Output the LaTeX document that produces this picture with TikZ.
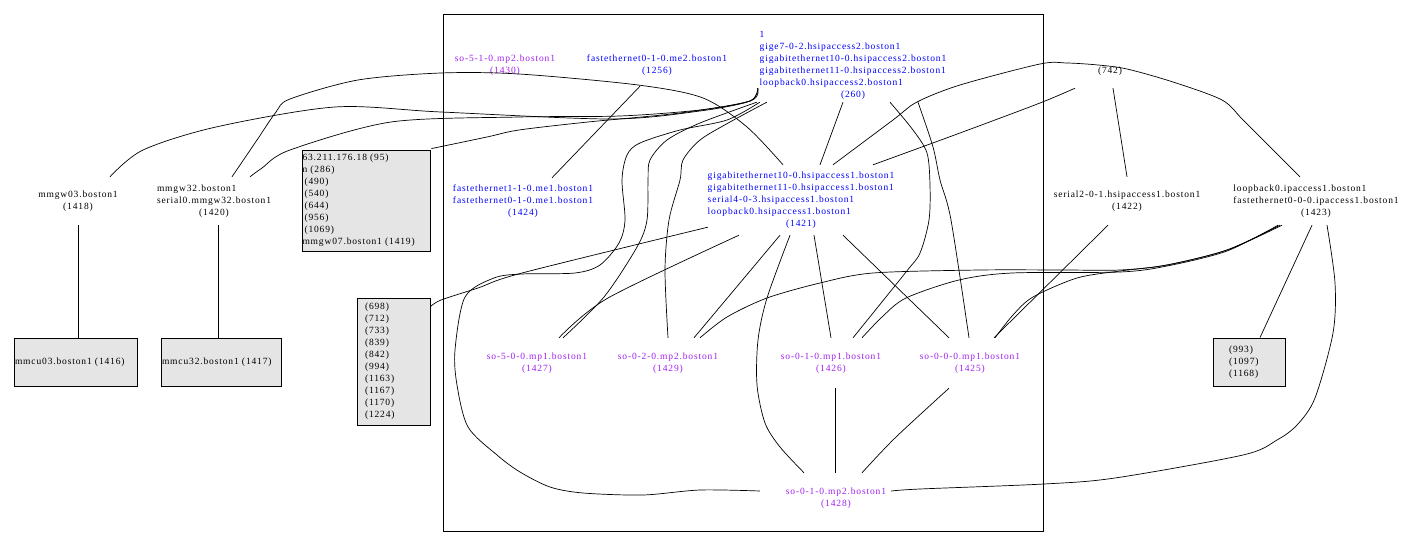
\documentclass[tikz,border=0pt]{standalone}
\usepackage{fontspec}
\newfontfamily\gfont[LetterSpace=9]{Liberation Serif}
\definecolor{gvblue}{RGB}{0,0,255}
\definecolor{gvpurple}{RGB}{160,32,240}
\definecolor{boxgray}{RGB}{229,229,229}
\newcommand{\gvlines}[2]{\begin{tabular}{@{}l@{}}#1\\\multicolumn{1}{@{}c@{}}{#2}\end{tabular}}
\tikzset{
  gtext/.style={font=\gfont\fontsize{9.5pt}{12pt}\selectfont},
  lab/.style={gtext, inner sep=0pt, align=center},
  bluelab/.style={lab, text=gvblue},
  purplab/.style={lab, text=gvpurple, minimum width=130pt, minimum height=50pt},
  graybox/.style={gtext, draw, fill=boxgray, line width=0.8pt, align=left, inner ysep=0pt},
  edge/.style={line width=0.7pt},
  smoothedge/.style={edge, smooth, tension=0.5},
  frame/.style={draw, line width=0.8pt, inner sep=0pt}
}
\begin{document}
\begin{tikzpicture}[x=1pt,y=-1pt]
\useasboundingbox (0,0) rectangle (1424,545);
% cluster frame
\node[frame, minimum width=600pt, minimum height=517pt] (cluster) at (743,272.5) {};
% outside left
\node[lab, minimum width=96pt, minimum height=48pt] (n1418) at (78,201) {mmgw03.boston1\\(1418)};
\node[lab, minimum width=120pt, minimum height=48pt] (n1420) at (214,201) {\gvlines{mmgw32.boston1\\serial0.mmgw32.boston1}{(1420)}};
\node[graybox, inner xsep=0.5pt, text width=127pt, minimum height=101pt] (n1419) at (366,200.5)
  {63.211.176.18 (95)\\n (286)\\\hspace{2pt}(490)\\\hspace{2pt}(540)\\\hspace{2pt}(644)\\\hspace{2pt}(956)\\\hspace{2pt}(1069)\\mmgw07.boston1 (1419)};
\node[graybox, inner xsep=1pt, text width=121pt, minimum height=48pt] (n1416) at (75.5,362) {mmcu03.boston1 (1416)};
\node[graybox, inner xsep=1pt, text width=118pt, minimum height=48pt] (n1417) at (221,362) {mmcu32.boston1 (1417)};
\node[graybox, inner xsep=8pt, text width=57pt, minimum height=127pt] (n698) at (393.5,361.5)
  {(698)\\(712)\\(733)\\(839)\\(842)\\(994)\\(1163)\\(1167)\\(1170)\\(1224)};
% cluster contents
\node[lab, text=gvpurple] (n1430) at (505,65) {so-5-1-0.mp2.boston1\\(1430)};
\node[bluelab, minimum width=150pt, minimum height=42pt] (n1256) at (657,65) {fastethernet0-1-0.me2.boston1\\(1256)};
\node[bluelab, minimum width=212pt, minimum height=74pt] (n260) at (853,65)
  {\gvlines{1\\gige7-0-2.hsipaccess2.boston1\\gigabitethernet10-0.hsipaccess2.boston1\\gigabitethernet11-0.hsipaccess2.boston1\\loopback0.hsipaccess2.boston1}{(260)}};
\node[bluelab, minimum width=150pt, minimum height=46pt] (n1424) at (523,201)
  {fastethernet1-1-0.me1.boston1\\fastethernet0-1-0.me1.boston1\\(1424)};
\node[bluelab, minimum width=200pt, minimum height=70pt] (n1421) at (801,200)
  {\gvlines{gigabitethernet10-0.hsipaccess1.boston1\\gigabitethernet11-0.hsipaccess1.boston1\\serial4-0-3.hsipaccess1.boston1\\loopback0.hsipaccess1.boston1}{(1421)}};
\node[purplab] (n1427) at (537,363) {so-5-0-0.mp1.boston1\\(1427)};
\node[purplab] (n1429) at (668,363) {so-0-2-0.mp2.boston1\\(1429)};
\node[purplab] (n1426) at (831,363) {so-0-1-0.mp1.boston1\\(1426)};
\node[purplab] (n1425) at (970,363) {so-0-0-0.mp1.boston1\\(1425)};
\node[purplab] (n1428) at (836,498) {so-0-1-0.mp2.boston1\\(1428)};
% outside right
\node[lab, minimum width=80pt, minimum height=34pt] (n742) at (1110,71) {(742)};
\node[lab, minimum width=160pt, minimum height=48pt] (n1422) at (1127,201) {serial2-0-1.hsipaccess1.boston1\\(1422)};
\node[lab, minimum width=170pt, minimum height=48pt] (n1423) at (1316,201)
  {\gvlines{loopback0.ipaccess1.boston1\\fastethernet0-0-0.ipaccess1.boston1}{(1423)}};
\node[graybox, inner xsep=16pt, text width=40pt, minimum height=48pt] (n993) at (1249,362) {(993)\\(1097)\\(1168)};

% edges
\draw[edge] (n1418.south) -- (n1418.south |- n1416.north);
\draw[edge] ([xshift=4pt]n1420.south) -- ([xshift=4pt]n1420.south |- n1417.north);
% to 260 from the left
\draw[smoothedge] plot coordinates {([xshift=32pt]n1418.north) (143,150) (216,127) (335,107) (441,112) (611,119) (700,111) (750,101) ([xshift=11pt,yshift=14pt]n260.south west)};
\draw[smoothedge] plot coordinates {([xshift=36pt]n1420.north) (262,168) (290,150) (391,122) (519,117) (620,116) (700,110) (750,101) ([xshift=11pt,yshift=14pt]n260.south west)};
\draw[smoothedge] plot coordinates {([xshift=1pt,yshift=1pt]n1419.north east) (487,137) (519,130) (588,122) (680,113) (750,101) ([xshift=11pt,yshift=14pt]n260.south west)};
% 1420 -> 1421
\draw[smoothedge] plot coordinates {([xshift=18pt]n1420.north) (257,140) (276,112) (290,99) (358,80) (441,73) (519,74) (638,85) (703,98) (747,127) ([xshift=-18pt]n1421.north)};
% 1256 -> 1424
\draw[edge] ([xshift=-17pt]n1256.south) -- ([xshift=29pt]n1424.north);
% from 260
\draw[smoothedge] plot coordinates {([xshift=13pt]n260.south west) (727,120) (680,130) (640,143) (627,155) (622,180) (625,220) (619,243) (600,265) (575,273) (522,274) (494,278) (465,297) (455,350) (457,385) (468,427) (497,455) (520,472) (550,487) (583,493) (643,495) (700,490) ([xshift=-11pt,yshift=7pt]n1428.west)};
\draw[smoothedge] plot coordinates {([xshift=10pt]n260.south west) (700,123) (667,140) (650,160) (648,180) (647,220) (637,247) (604,297) ([xshift=26pt]n1427.north)};
\draw[smoothedge] plot coordinates {([xshift=20pt]n260.south west) (730,122) (700,140) (683,160) (680,180) (669,220) (665,270) (n1429.north)};
\draw[edge] ([xshift=-10pt]n260.south) -- ([xshift=19pt]n1421.north);
\draw[smoothedge] plot coordinates {([xshift=37pt]n260.south) (913,130) (927,153) (930,185) (929,220) (920,253) (906,272) ([xshift=22pt]n1426.north)};
\draw[smoothedge] plot coordinates {([xshift=65pt]n260.south) (933,147) (940,180) (951,220) ([xshift=-1pt]n1425.north)};
% 742
\draw[smoothedge] plot coordinates {([xshift=-35pt]n742.south) (1040,103) (960,133) ([xshift=72pt]n1421.north)};
\draw[edge] ([xshift=3pt]n742.south) -- (n1422.north);
% 1423 -> 1421 arc
\draw[smoothedge] plot coordinates {([xshift=-16pt]n1423.north) (1273,150) (1243,120) (1222,100) (1173,82) (1127,69) (1098,65) (1067,63) (1040,64) (960,85) (917,102) (893,120) ([xshift=32pt]n1421.north)};
% 1422 -> 1425
\draw[edge] ([xshift=-19pt]n1422.south) -- ([xshift=24pt]n1425.north);
% 1423 bundle
\draw[smoothedge] plot coordinates {([xshift=-34pt]n1423.south) (1227,250) (1167,265) (1120,271) (1077,278) (1033,297) (1013,315) ([xshift=25pt]n1425.north)};
\draw[smoothedge] plot coordinates {([xshift=-36pt]n1423.south) (1227,250) (1167,265) (1120,270) (1063,270) (980,270) (873,273) (820,283) (767,298) (727,317) ([xshift=32pt]n1429.north)};
\draw[smoothedge] plot coordinates {([xshift=-38pt]n1423.south) (1227,251) (1167,266) (1120,272) (1012,273) (959,280) (906,298) (882,317) ([xshift=31pt]n1426.north)};
\draw[edge] ([xshift=-4pt]n1423.south) -- ([xshift=11pt]n993.north);
\draw[smoothedge] plot coordinates {([xshift=11pt]n1423.south) (1335,283) (1333,333) (1315,398) (1297,425) (1277,440) (1243,455) (1115,478) (1044,484) (920,489) ([xshift=-10pt,yshift=7pt]n1428.east)};
% from 1421 down
\draw[smoothedge] plot coordinates {([xshift=7pt,yshift=8pt]n1421.south west) (522,273) (478,288) (441,300) ([yshift=-9pt]n698.north east)};
\draw[smoothedge] plot coordinates {([xshift=-62pt]n1421.south) (608,298) ([xshift=22pt]n1427.north)};
\draw[edge] ([xshift=-21pt]n1421.south) -- ([xshift=26pt]n1429.north);
\draw[smoothedge] plot coordinates {([xshift=-11pt]n1421.south) (767,298) (758,340) (757,385) (765,423) (780,447) ([xshift=-32pt]n1428.north)};
\draw[edge] ([xshift=13pt]n1421.south) -- (n1426.north);
\draw[edge] ([xshift=42pt]n1421.south) -- ([xshift=-21pt]n1425.north);
% to 1428
\draw[edge] ([xshift=4pt]n1426.south) -- ([xshift=-1pt]n1428.north);
\draw[smoothedge] plot coordinates {([xshift=-21pt]n1425.south) (895,438) ([xshift=26pt]n1428.north)};
\end{tikzpicture}
\end{document}
